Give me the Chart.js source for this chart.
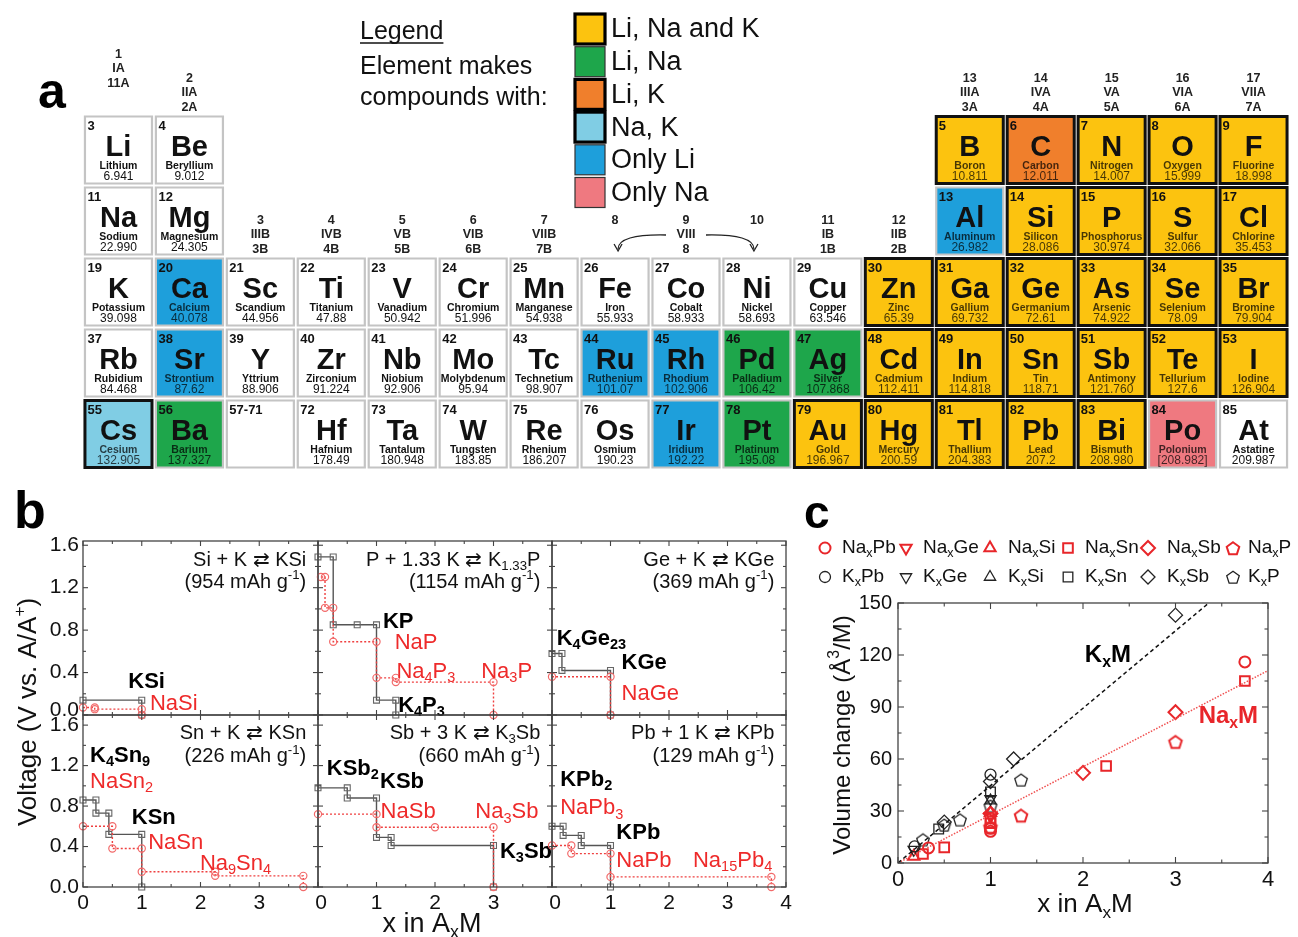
<!DOCTYPE html>
<html>
<head>
<meta charset="utf-8">
<script src="https://cdn.jsdelivr.net/npm/chart.js@4.4.0/dist/chart.umd.min.js"></script>
<style>
  body{margin:0;background:#fff;width:1298px;height:937px;position:relative;overflow:hidden}
  canvas{position:absolute;left:0;top:0}
</style>
</head>
<body>
<canvas id="table" width="1298" height="937"></canvas>
<canvas id="volume" width="1298" height="937"></canvas>
<script>
const FONT = '"Liberation Sans", Arial, Helvetica, sans-serif';
Chart.defaults.font.family = FONT;

/**** (a) periodic table data ****/
// [number, symbol, name, weight, column, period-row, class]
const elements = [
  ['3','Li','Lithium','6.941',1,1,'none'], ['4','Be','Beryllium','9.012',2,1,'none'],
  ['5','B','Boron','10.811',13,1,'LiNaK'], ['6','C','Carbon','12.011',14,1,'LiK'],
  ['7','N','Nitrogen','14.007',15,1,'LiNaK'], ['8','O','Oxygen','15.999',16,1,'LiNaK'],
  ['9','F','Fluorine','18.998',17,1,'LiNaK'],
  ['11','Na','Sodium','22.990',1,2,'none'], ['12','Mg','Magnesium','24.305',2,2,'none'],
  ['13','Al','Aluminum','26.982',13,2,'Li'], ['14','Si','Silicon','28.086',14,2,'LiNaK'],
  ['15','P','Phosphorus','30.974',15,2,'LiNaK'], ['16','S','Sulfur','32.066',16,2,'LiNaK'],
  ['17','Cl','Chlorine','35.453',17,2,'LiNaK'],
  ['19','K','Potassium','39.098',1,3,'none'], ['20','Ca','Calcium','40.078',2,3,'Li'],
  ['21','Sc','Scandium','44.956',3,3,'none'], ['22','Ti','Titanium','47.88',4,3,'none'],
  ['23','V','Vanadium','50.942',5,3,'none'], ['24','Cr','Chromium','51.996',6,3,'none'],
  ['25','Mn','Manganese','54.938',7,3,'none'], ['26','Fe','Iron','55.933',8,3,'none'],
  ['27','Co','Cobalt','58.933',9,3,'none'], ['28','Ni','Nickel','58.693',10,3,'none'],
  ['29','Cu','Copper','63.546',11,3,'none'], ['30','Zn','Zinc','65.39',12,3,'LiNaK'],
  ['31','Ga','Gallium','69.732',13,3,'LiNaK'], ['32','Ge','Germanium','72.61',14,3,'LiNaK'],
  ['33','As','Arsenic','74.922',15,3,'LiNaK'], ['34','Se','Selenium','78.09',16,3,'LiNaK'],
  ['35','Br','Bromine','79.904',17,3,'LiNaK'],
  ['37','Rb','Rubidium','84.468',1,4,'none'], ['38','Sr','Strontium','87.62',2,4,'Li'],
  ['39','Y','Yttrium','88.906',3,4,'none'], ['40','Zr','Zirconium','91.224',4,4,'none'],
  ['41','Nb','Niobium','92.906',5,4,'none'], ['42','Mo','Molybdenum','95.94',6,4,'none'],
  ['43','Tc','Technetium','98.907',7,4,'none'], ['44','Ru','Ruthenium','101.07',8,4,'Li'],
  ['45','Rh','Rhodium','102.906',9,4,'Li'], ['46','Pd','Palladium','106.42',10,4,'LiNa'],
  ['47','Ag','Silver','107.868',11,4,'LiNa'], ['48','Cd','Cadmium','112.411',12,4,'LiNaK'],
  ['49','In','Indium','114.818',13,4,'LiNaK'], ['50','Sn','Tin','118.71',14,4,'LiNaK'],
  ['51','Sb','Antimony','121.760',15,4,'LiNaK'], ['52','Te','Tellurium','127.6',16,4,'LiNaK'],
  ['53','I','Iodine','126.904',17,4,'LiNaK'],
  ['55','Cs','Cesium','132.905',1,5,'NaK'], ['56','Ba','Barium','137.327',2,5,'LiNa'],
  ['57-71','','','',3,5,'none'], ['72','Hf','Hafnium','178.49',4,5,'none'],
  ['73','Ta','Tantalum','180.948',5,5,'none'], ['74','W','Tungsten','183.85',6,5,'none'],
  ['75','Re','Rhenium','186.207',7,5,'none'], ['76','Os','Osmium','190.23',8,5,'none'],
  ['77','Ir','Iridium','192.22',9,5,'Li'], ['78','Pt','Platinum','195.08',10,5,'LiNa'],
  ['79','Au','Gold','196.967',11,5,'LiNaK'], ['80','Hg','Mercury','200.59',12,5,'LiNaK'],
  ['81','Tl','Thallium','204.383',13,5,'LiNaK'], ['82','Pb','Lead','207.2',14,5,'LiNaK'],
  ['83','Bi','Bismuth','208.980',15,5,'LiNaK'], ['84','Po','Polonium','[208.982]',16,5,'Na'],
  ['85','At','Astatine','209.987',17,5,'none']
];
const classKeys   = ['LiNaK','LiNa','LiK','NaK','Li','Na'];
const classLabels = ['Li, Na and K','Li, Na','Li, K','Na, K','Only Li','Only Na'];
const classColors = {LiNaK:'#fcc30f', LiNa:'#1ea64b', LiK:'#f07f2c', NaK:'#80cde4', Li:'#1e9fdb', Na:'#ef7980', none:'#ffffff'};
const blackBorder = {LiNaK:true, LiK:true, NaK:true};
// group headings: [column, lines]
const groupHeads = [
  [1,['1','IA','11A']],[2,['2','IIA','2A']],[3,['3','IIIB','3B']],[4,['4','IVB','4B']],
  [5,['5','VB','5B']],[6,['6','VIB','6B']],[7,['7','VIIB','7B']],[8,['8']],[9,['9','VIII','8']],
  [10,['10']],[11,['11','IB','1B']],[12,['12','IIB','2B']],[13,['13','IIIA','3A']],
  [14,['14','IVA','4A']],[15,['15','VA','5A']],[16,['16','VIA','6A']],[17,['17','VIIA','7A']]
];

/**** (b) voltage steps, [x in AxM, V] ****/
const siK  = [[0,0.14],[1,0.14],[1,0]];
const siNa = [[0,0.07],[0.2,0.07],[0.2,0.055],[1,0.055],[1,0]];
const pK   = [[0,1.49],[0.26,1.49],[0.26,0.85],[0.67,0.85],[1,0.85],[1,0.14],[1.33,0.14],[1.33,0]];
const pNa  = [[0.05,1.3],[0.12,1.3],[0.12,1.01],[0.26,1.01],[0.26,0.69],[1,0.69],[1,0.35],[1.33,0.35],[1.33,0.31],[3,0.31],[3,0]];
const geK  = [[0,0.58],[0.17,0.58],[0.17,0.42],[1,0.42],[1,0]];
const geNa = [[0,0.36],[1,0.36],[1,0]];
const snK  = [[0,0.86],[0.22,0.86],[0.22,0.73],[0.44,0.73],[0.44,0.52],[1,0.52],[1,0]];
const snNa = [[0,0.6],[0.5,0.6],[0.5,0.38],[1,0.38],[1,0.15],[2.25,0.15],[2.25,0.11],[3.75,0.11],[3.75,0]];
const sbK  = [[0,0.98],[0.5,0.98],[0.5,0.88],[1,0.88],[1,0.49],[1.25,0.49],[1.25,0.41],[3,0.41],[3,0]];
const sbNa = [[0,0.72],[1,0.72],[1,0.59],[2,0.59],[3,0.59],[3,0]];
const pbK  = [[0,0.6],[0.19,0.6],[0.19,0.51],[0.5,0.51],[0.5,0.41],[1,0.41],[1,0]];
const pbNa = [[0,0.41],[0.33,0.41],[0.33,0.33],[1,0.33],[1,0.1],[3.75,0.1],[3.75,0]];
const vTicks = [0,0.4,0.8,1.2,1.6];
const vTickLabels = ['0.0','0.4','0.8','1.2','1.6'];
const xTicksB = [0,1,2,3,4];

/**** (c) volume change, [x, %] ****/
const naPb = [[0.33,8.7],[1,18.3],[1,20],[3.75,116]];
const naGe = [[1,27]];
const naSi = [[0.17,3.8],[1,29]];
const naSn = [[0.27,5.2],[0.5,9],[1,23],[1,25.5],[2.25,56],[3.75,105]];
const naSb = [[1,28.5],[2,52],[3,87]];
const naP  = [[1,21],[1.33,27.5],[3,70]];
const kPb  = [[0.18,9.6],[1,51]];
const kGe  = [[0.17,7.7],[1,37]];
const kSi  = [[1,36]];
const kSn  = [[0.44,19.6],[1,41]];
const kSb  = [[0.5,23.6],[1,47],[1.25,60],[3,143]];
const kP   = [[0.27,13.5],[0.5,22],[0.67,25],[1,33],[1.33,48]];
const kFit  = [[0,0],[3.36,150]];
const naFit = [[0,0],[4,111]];
const volTicksY = [0,30,60,90,120,150];
const volTicksX = [0,1,2,3,4];

/**** helpers ****/
// text with _{sub} and ^{sup}
function rich(ctx, str, x, y, size, weight, color, align){
  const parts=[]; const re=/([_^])\{([^}]*)\}|([^_^]+)/g; let m;
  while((m=re.exec(str))) parts.push(m[3]?{t:m[3],k:0}:{t:m[2],k:m[1]==='_'?1:2});
  const f=s=>`${weight} ${s}px ${FONT}`;
  let w=0;
  parts.forEach(p=>{ctx.font=f(p.k?size*0.66:size); p.w=ctx.measureText(p.t).width; w+=p.w;});
  let cx = align==='right'? x-w : align==='center'? x-w/2 : x;
  ctx.fillStyle=color; ctx.textAlign='left'; ctx.textBaseline='middle';
  parts.forEach(p=>{
    ctx.font=f(p.k?size*0.66:size);
    const dy=p.k===1?size*0.3:p.k===2?-size*0.33:0;
    ctx.fillText(p.t,cx,y+dy); cx+=p.w;
  });
}
function frameTicks(ctx, area, xs, ys, xMaj, xMin, yMaj, yMin, lMaj, lMin){
  ctx.strokeStyle='#444'; ctx.lineWidth=1.3;
  ctx.strokeRect(area.left, area.top, area.right-area.left, area.bottom-area.top);
  ctx.lineWidth=1.1;
  const line=(a,b,c,d)=>{ctx.beginPath();ctx.moveTo(a,b);ctx.lineTo(c,d);ctx.stroke();};
  for(let v=xs.min; v<=xs.max+1e-9; v+=xMin){
    const L = Math.abs(v/xMaj-Math.round(v/xMaj))<1e-6 ? lMaj : lMin;
    const p=xs.getPixelForValue(v);
    line(p,area.bottom,p,area.bottom-L); line(p,area.top,p,area.top+L);
  }
  for(let v=0; v<=ys.max+1e-9; v+=yMin){
    const L = Math.abs(v/yMaj-Math.round(v/yMaj))<1e-6 ? lMaj : lMin;
    const p=ys.getPixelForValue(v);
    if(p<area.top-0.5) continue;
    line(area.left,p,area.left+L,p); line(area.right,p,area.right-L,p);
  }
}
const baseOpts = pad => ({
  responsive:false, animation:false, events:[],
  layout:{padding:pad},
  plugins:{legend:{display:false}, tooltip:{enabled:false}}
});

/**** (a) periodic table chart ****/
const tableText = {
  id:'tableText',
  afterDatasetsDraw(chart){
    const {ctx, scales:{x,y}} = chart;
    ctx.save();
    elements.forEach(e=>{
      const px=x.getPixelForValue(e[4]), py=y.getPixelForValue(e[5]);
      const sub = e[6]==='none' ? '#111' : 'rgba(0,0,0,0.72)';
      ctx.textBaseline='middle';
      ctx.fillStyle='#111'; ctx.textAlign='left'; ctx.font=`bold 13px ${FONT}`;
      ctx.fillText(e[0], px-31, py-24);
      ctx.textAlign='center'; ctx.font=`bold 29px ${FONT}`; ctx.fillText(e[1], px, py-2);
      ctx.fillStyle=sub; ctx.font=`bold 10.5px ${FONT}`; ctx.fillText(e[2], px, py+16);
      ctx.font=`12px ${FONT}`; ctx.fillText(e[3], px, py+27);
    });
    // group headings
    ctx.fillStyle='#222'; ctx.font=`bold 12.5px ${FONT}`; ctx.textAlign='center'; ctx.textBaseline='middle';
    groupHeads.forEach(([c,lines])=>{
      const px=x.getPixelForValue(c);
      let top = c===1 ? y.getPixelForValue(0.5)-60 : (c===2||c>=13) ? y.getPixelForValue(0.5)-36 : y.getPixelForValue(2.5)-36;
      lines.forEach((t,i)=>ctx.fillText(t, px, top+i*14.5));
    });
    // VIII bracket arrows
    const y8=y.getPixelForValue(2.5)-36+14.5, p8=x.getPixelForValue(8), p9=x.getPixelForValue(9), p10=x.getPixelForValue(10);
    ctx.strokeStyle='#222'; ctx.lineWidth=1.3;
    [[p9-20,p8+3],[p9+20,p10-3]].forEach(([a,b])=>{
      ctx.beginPath(); ctx.moveTo(a,y8); ctx.quadraticCurveTo(b,y8-1,b,y8+14); ctx.stroke();
      ctx.beginPath(); ctx.moveTo(b-4,y8+9); ctx.lineTo(b,y8+16); ctx.lineTo(b+4,y8+9); ctx.stroke();
    });
    // panel letter
    ctx.fillStyle='#000'; ctx.font=`bold 50px ${FONT}`; ctx.textAlign='left'; ctx.textBaseline='alphabetic';
    ctx.fillText('a', 38, 108);
    // legend
    ctx.font=`25px ${FONT}`; ctx.fillStyle='#111';
    ctx.fillText('Legend', 360, 39);
    const lw=ctx.measureText('Legend').width;
    ctx.lineWidth=1.5; ctx.strokeStyle='#111';
    ctx.beginPath(); ctx.moveTo(360,43); ctx.lineTo(360+lw,43); ctx.stroke();
    ctx.fillText('Element makes', 360, 74);
    ctx.fillText('compounds with:', 360, 105);
    classKeys.forEach((k,i)=>{
      const top = 14 + i*32.7;
      ctx.fillStyle=classColors[k]; ctx.fillRect(575, top, 30, 30);
      ctx.lineWidth = blackBorder[k] ? 3.2 : 1.2;
      ctx.strokeStyle = blackBorder[k] ? '#000' : '#333';
      ctx.strokeRect(575, top, 30, 30);
      ctx.fillStyle='#111'; ctx.font=`27px ${FONT}`; ctx.textBaseline='middle';
      ctx.fillText(classLabels[i], 611, top+16);
    });
    ctx.restore();
  }
};
new Chart(document.getElementById('table'), {
  type:'scatter',
  data:{datasets:[{
    data: elements.map(e=>({x:e[4], y:e[5]})),
    pointStyle:'rect',
    pointRadius: c => (c.chart.scales.x.getPixelForValue(1)-c.chart.scales.x.getPixelForValue(0))*0.945/Math.SQRT2,
    pointBackgroundColor: c => classColors[elements[c.dataIndex][6]],
    pointBorderColor: c => blackBorder[elements[c.dataIndex][6]] ? '#111' : '#c4c4c4',
    pointBorderWidth: c => blackBorder[elements[c.dataIndex][6]] ? 3 : 2.2,
    clip:false
  }]},
  options:{...baseOpts({left:83, right:9, top:114.5, bottom:467.5}),
    scales:{x:{type:'linear', min:0.5, max:17.5, display:false}, y:{min:0.5, max:5.5, reverse:true, display:false}}},
  plugins:[tableText]
});

/**** (b) six voltage panels ****/
const bX = [83,318,552,786];
const bY = [[541,715],[715,887]];
const bYmax = [1.64,1.7];
const panels = [
  {k:siK, na:siNa, col:0, row:0, title:['Si + K ⇄ KSi','(954 mAh g^{-1})'],
   labels:[['KSi',0.77,0.31,1],['NaSi',1.14,0.10,0]]},
  {k:pK, na:pNa, col:1, row:0, title:['P + 1.33 K ⇄ K_{1.33}P','(1154 mAh g^{-1})'],
   labels:[['KP',1.11,0.88,1],['NaP',1.31,0.68,0],['Na_{4}P_{3}',1.34,0.41,0],['Na_{3}P',2.79,0.41,0],['K_{4}P_{3}',1.37,0.09,1]]},
  {k:geK, na:geNa, col:2, row:0, title:['Ge + K ⇄ KGe','(369 mAh g^{-1})'],
   labels:[['K_{4}Ge_{23}',0.08,0.72,1],['KGe',1.19,0.49,1],['NaGe',1.19,0.2,0]]},
  {k:snK, na:snNa, col:0, row:1, title:['Sn + K ⇄ KSn','(226 mAh g^{-1})'],
   labels:[['K_{4}Sn_{9}',0.12,1.3,1],['NaSn_{2}',0.12,1.04,0],['KSn',0.83,0.68,1],['NaSn',1.11,0.44,0],['Na_{9}Sn_{4}',1.99,0.23,0]]},
  {k:sbK, na:sbNa, col:1, row:1, title:['Sb + 3 K ⇄ K_{3}Sb','(660 mAh g^{-1})'],
   labels:[['KSb_{2}',0.15,1.17,1],['KSb',1.06,1.04,1],['NaSb',1.07,0.74,0],['Na_{3}Sb',2.69,0.74,0],['K_{3}Sb',3.11,0.35,1]]},
  {k:pbK, na:pbNa, col:2, row:1, title:['Pb + 1 K ⇄ KPb','(129 mAh g^{-1})'],
   labels:[['KPb_{2}',0.14,1.06,1],['NaPb_{3}',0.14,0.78,0],['KPb',1.1,0.53,1],['NaPb',1.1,0.26,0],['Na_{15}Pb_{4}',2.41,0.26,0]]}
];
panels.forEach((p,i)=>{
  const cv=document.createElement('canvas'); cv.width=1298; cv.height=937;
  document.body.appendChild(cv);
  const deco = {
    id:'volt'+i,
    afterDatasetsDraw(chart){
      const {ctx, chartArea:a, scales:{x,y}} = chart;
      ctx.save();
      frameTicks(ctx, a, x, y, 1, 0.5, 0.4, 0.2, 5, 3);
      const tx = x.getPixelForValue(3.8);
      rich(ctx, p.title[0], tx, y.getPixelForValue(p.row? 1.52:1.46), 20, 'normal', '#111', 'right');
      rich(ctx, p.title[1], tx, y.getPixelForValue(p.row? 1.29:1.25), 20, 'normal', '#111', 'right');
      p.labels.forEach(([t,lx,ly,b])=>rich(ctx, t, x.getPixelForValue(lx), y.getPixelForValue(ly), 22, b?'bold':'normal', b?'#000':'#ee2a2a', 'left'));
      // tick labels
      if(p.col===0){
        vTicks.forEach((v,j)=>{
          let py=y.getPixelForValue(v);
          if(p.row===0 && v===0) py-=5;
          rich(ctx, vTickLabels[j], a.left-4, py, 21, 'normal', '#111', 'right');
        });
      }
      if(p.row===1){
        xTicksB.forEach(v=>{
          if(v===4 && p.col<2) return;
          rich(ctx, String(v), x.getPixelForValue(v)+(v===0&&p.col>0?3:0), a.bottom+16, 21, 'normal', '#111', 'center');
        });
      }
      if(i===0){
        ctx.fillStyle='#000'; ctx.font=`bold 52px ${FONT}`; ctx.textAlign='left'; ctx.textBaseline='alphabetic';
        ctx.fillText('b', 14, 528);
        ctx.translate(29, 712); ctx.rotate(-Math.PI/2);
        rich(ctx, 'Voltage (V vs. A/A^{+})', 0, 0, 26, 'normal', '#111', 'center');
      }
      if(i===4){
        rich(ctx, 'x in A_{x}M', 432, 925, 27, 'normal', '#111', 'center');
      }
      ctx.restore();
    }
  };
  new Chart(cv, {
    type:'scatter',
    data:{datasets:[
      {data:p.na.map(([x,y])=>({x,y})), showLine:true, borderColor:'#ef4040', borderWidth:1.4, borderDash:[2,2],
       pointStyle:'circle', pointRadius:3.6, pointBorderColor:'#f26a6a', pointBackgroundColor:'rgba(255,255,255,0)', pointBorderWidth:1.2, clip:false},
      {data:p.k.map(([x,y])=>({x,y})), showLine:true, borderColor:'#555', borderWidth:1.4,
       pointStyle:'rect', pointRadius:4.2, pointBorderColor:'#666', pointBackgroundColor:'rgba(255,255,255,0)', pointBorderWidth:1.1, clip:false}
    ]},
    options:{...baseOpts({left:bX[p.col], right:1298-bX[p.col+1], top:bY[p.row][0], bottom:937-bY[p.row][1]}),
      scales:{x:{type:'linear', min:0, max:4, display:false}, y:{min:0, max:bYmax[p.row], display:false}}},
    plugins:[deco]
  });
});

/**** (c) volume change vs x ****/
function pentagon(color, lw){
  const c=document.createElement('canvas'); c.width=c.height=18;
  const g=c.getContext('2d'); g.strokeStyle=color; g.lineWidth=lw; g.lineJoin='miter';
  g.beginPath();
  for(let i=0;i<5;i++){const t=-Math.PI/2+i*2*Math.PI/5; g.lineTo(9+6.6*Math.cos(t), 9.8+6.6*Math.sin(t));}
  g.closePath(); g.stroke(); return c;
}
const RED='#e8262a', BLK='#222';
const markerStyles = [
  {pointStyle:'circle', pointRadius:5.5},
  {pointStyle:'triangle', pointRadius:6.5, pointRotation:180},
  {pointStyle:'triangle', pointRadius:6.5},
  {pointStyle:'rect', pointRadius:6.8},
  {pointStyle:'rectRot', pointRadius:7},
  {pointStyle:'pent', pointRadius:6}
];
const metals = ['Pb','Ge','Si','Sn','Sb','P'];
const naSeries = [naPb,naGe,naSi,naSn,naSb,naP];
const kSeries  = [kPb,kGe,kSi,kSn,kSb,kP];
const pentRed = pentagon(RED,2), pentBlk = pentagon(BLK,1.3);
function styleFor(j, red){
  const s={...markerStyles[j]};
  if(s.pointStyle==='pent') s.pointStyle = red ? pentRed : pentBlk;
  return Object.assign(s,{pointBorderColor:red?RED:BLK, pointBorderWidth:red?2:1.3, pointBackgroundColor:'rgba(255,255,255,0)'});
}
const volDatasets = [
  {data:kFit.map(([x,y])=>({x,y})), showLine:true, pointRadius:0, borderColor:'#111', borderWidth:1.5, borderDash:[4,3]},
  {data:naFit.map(([x,y])=>({x,y})), showLine:true, pointRadius:0, borderColor:'#f05050', borderWidth:1.5, borderDash:[1.5,1.5]}
];
metals.forEach((m,j)=>{
  volDatasets.push({data:kSeries[j].map(([x,y])=>({x,y})), showLine:false, clip:false, ...styleFor(j,false)});
  volDatasets.push({data:naSeries[j].map(([x,y])=>({x,y})), showLine:false, clip:false, ...styleFor(j,true)});
});
const volDeco = {
  id:'volDeco',
  afterDatasetsDraw(chart){
    const {ctx, chartArea:a, scales:{x,y}} = chart;
    ctx.save();
    frameTicks(ctx, a, x, y, 1, 0.5, 30, 15, 6, 3.5);
    volTicksY.forEach(v=>rich(ctx, String(v), a.left-6, y.getPixelForValue(v), 20, 'normal', '#111', 'right'));
    volTicksX.forEach(v=>rich(ctx, String(v), x.getPixelForValue(v), a.bottom+17, 22, 'normal', '#111', 'center'));
    rich(ctx, 'x in A_{x}M', 1085, 905, 26, 'normal', '#111', 'center');
    rich(ctx, 'K_{x}M', x.getPixelForValue(2.02), y.getPixelForValue(119.5), 24, 'bold', '#000', 'left');
    rich(ctx, 'Na_{x}M', x.getPixelForValue(3.25), y.getPixelForValue(84.4), 24, 'bold', RED, 'left');
    ctx.save();
    ctx.translate(843, 735); ctx.rotate(-Math.PI/2);
    rich(ctx, 'Volume change (Å^{3}/M)', 0, 0, 24, 'normal', '#111', 'center');
    ctx.restore();
    ctx.fillStyle='#000'; ctx.font=`bold 46px ${FONT}`; ctx.textAlign='left'; ctx.textBaseline='alphabetic';
    ctx.fillText('c', 804, 528);
    // legend
    const mx=[825,906,990,1068,1148,1233], tx=[842,923,1008,1085,1167,1248];
    metals.forEach((m,j)=>{
      [[true,548,'Na'],[false,577,'K']].forEach(([red,ly,pre])=>{
        const s=styleFor(j,red);
        ctx.fillStyle='rgba(255,255,255,0)';
        ctx.strokeStyle=s.pointBorderColor; ctx.lineWidth=s.pointBorderWidth;
        Chart.helpers.drawPoint(ctx, {pointStyle:s.pointStyle, radius:s.pointRadius, rotation:s.pointRotation||0,
          borderWidth:s.pointBorderWidth}, mx[j], ly);
        rich(ctx, pre+'_{x}'+m, tx[j], ly, 19, 'normal', '#111', 'left');
      });
    });
    ctx.restore();
  }
};
new Chart(document.getElementById('volume'), {
  type:'scatter',
  data:{datasets:volDatasets},
  options:{...baseOpts({left:898, right:30, top:603, bottom:74}),
    scales:{x:{type:'linear', min:0, max:4, display:false}, y:{min:0, max:150, display:false}}},
  plugins:[volDeco]
});
</script>
</body>
</html>
